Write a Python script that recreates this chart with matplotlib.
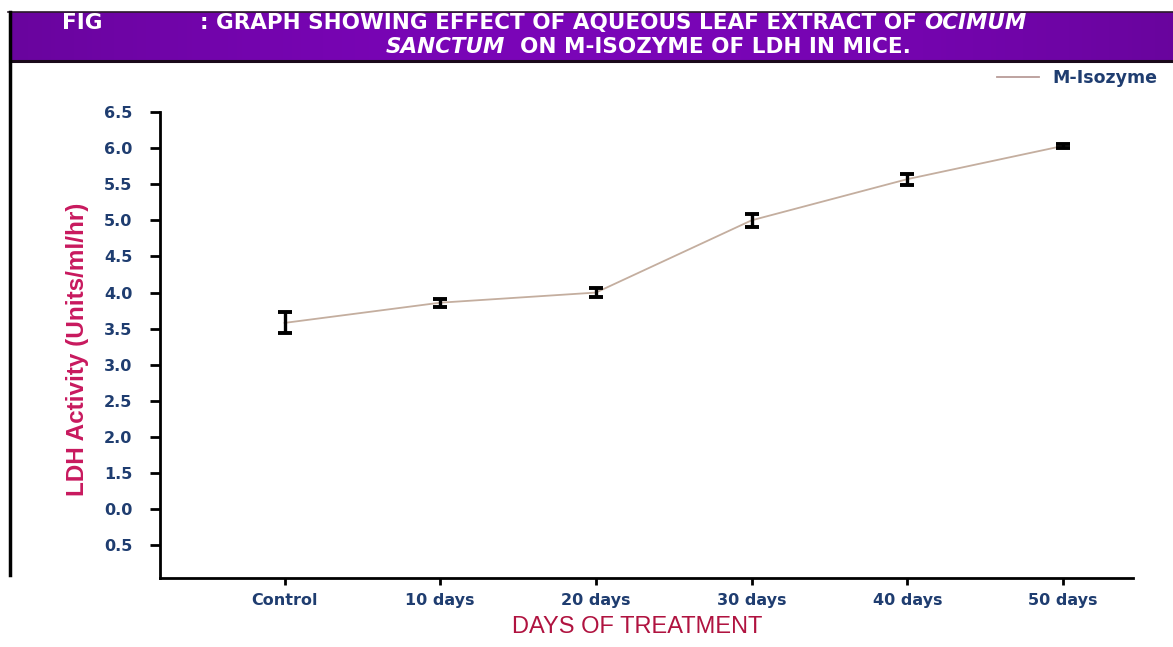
import matplotlib
matplotlib.use("Agg")
import matplotlib.pyplot as plt
import numpy as np
from matplotlib.lines import Line2D
from matplotlib.text import Annotation

# ---- data ----
categories = ["Control", "10 days", "20 days", "30 days", "40 days", "50 days"]
m_isozyme = [3.58, 3.86, 4.00, 5.00, 5.57, 6.03]
m_err = [0.145, 0.055, 0.06, 0.09, 0.075, 0.03]
ytick_values = [0.5, 1.0, 1.5, 2.0, 2.5, 3.0, 3.5, 4.0, 4.5, 5.0, 5.5, 6.0, 6.5]
ytick_labels = ["0.5", "0.0", "1.5", "2.0", "2.5", "3.0", "3.5", "4.0", "4.5", "5.0", "5.5", "6.0", "6.5"]
series_name = "M-Isozyme"

W, H = 1173, 647
fig = plt.figure(figsize=(W / 100, H / 100), dpi=100)
fig.patch.set_facecolor("white")

def fx(px):
    return px / W

def fy(py):
    return 1 - py / H

# ---- title band ----
band = fig.add_axes([fx(10), fy(61), 1 - fx(10), fy(12) - fy(61)])
grad = np.linspace(0, 1, 256)
prof = 0.86 + 0.14 * np.sin(np.pi * grad)
r = 0.48 * prof
g = 0.02 * prof
b = 0.72 * prof
img = np.dstack([np.tile(c, (8, 1)) for c in (r, g, b)])
band.imshow(img, aspect="auto", extent=[0, 1, 0, 1])
band.set_xlim(0, 1)
band.set_ylim(0, 1)
band.set_axis_off()

# borders
fig.add_artist(Line2D([fx(8), 1], [fy(12), fy(12)], color="#2a1a2a", lw=1.2))
fig.add_artist(Line2D([fx(10), 1], [fy(61), fy(61)], color="#1a0a1a", lw=2.2))
fig.add_artist(Line2D([fx(10), fx(10)], [fy(12), fy(575)], color="black", lw=2.5))

tfont = dict(family="DejaVu Sans", weight="bold", color="white", fontsize=15.5)
fig.text(fx(62), fy(23), "FIG", va="center", ha="left", **tfont)
t1 = fig.text(fx(200), fy(23), ": GRAPH SHOWING EFFECT OF AQUEOUS LEAF EXTRACT OF ",
              va="center", ha="left", **tfont)
a1 = Annotation("OCIMUM", xy=(1, 0), xycoords=t1, ha="left", va="bottom",
                style="italic", **tfont)
fig.add_artist(a1)
t2 = fig.text(fx(386), fy(47), "SANCTUM", va="center", ha="left", style="italic", **tfont)
a2 = Annotation("  ON M-ISOZYME OF LDH IN MICE.", xy=(1, 0), xycoords=t2,
                ha="left", va="bottom", **tfont)
fig.add_artist(a2)

# ---- main axes ----
ax = fig.add_axes([fx(160), fy(578), fx(1133) - fx(160), fy(112) - fy(578)])
x = np.arange(len(categories))
ax.plot(x, m_isozyme, color="#c4ae9f", lw=1.3, label=series_name, zorder=2)
ax.errorbar(x, m_isozyme, yerr=m_err, fmt="none", ecolor="black", elinewidth=2.4,
            capsize=5.2, capthick=2.8, zorder=3)

ax.set_xlim(-0.80, 5.45)
ax.set_ylim(0.048, 6.5)
ax.set_xticks(x)
ax.set_xticklabels(categories)
ax.set_yticks(ytick_values)
ax.set_yticklabels(ytick_labels)

for s in ("top", "right"):
    ax.spines[s].set_visible(False)
for s in ("left", "bottom"):
    ax.spines[s].set_linewidth(2.0)
    ax.spines[s].set_color("black")

ax.tick_params(axis="y", direction="out", length=7, width=2, pad=13,
               labelsize=11.5, labelcolor="#1f3d70")
ax.tick_params(axis="x", direction="out", length=5, width=2, pad=6,
               labelsize=11.5, labelcolor="#1f3d70")
for lab in ax.get_xticklabels() + ax.get_yticklabels():
    lab.set_fontweight("bold")
    lab.set_family("DejaVu Sans")

ax.set_ylabel("LDH Activity (Units/ml/hr)", color="#c8195e", fontsize=17.5,
              family="Liberation Sans", weight="bold", va="center")
ax.yaxis.set_label_coords(-0.085, 0.49)
ax.set_xlabel("DAYS OF TREATMENT", color="#b01340", fontsize=17,
              family="Liberation Sans", va="center")
ax.xaxis.set_label_coords(0.49, -0.105)

leg = fig.legend(loc="upper right", bbox_to_anchor=(fx(1170), fy(57)), frameon=False,
                 handlelength=2.4, handletextpad=0.8, borderpad=0.2,
                 prop=dict(family="DejaVu Sans", weight="bold", size=12.5))
for t in leg.get_texts():
    t.set_color("#1f3d70")
for h in leg.legend_handles:
    h.set_color("#b99c98")

fig.savefig("out.png", dpi=100)
